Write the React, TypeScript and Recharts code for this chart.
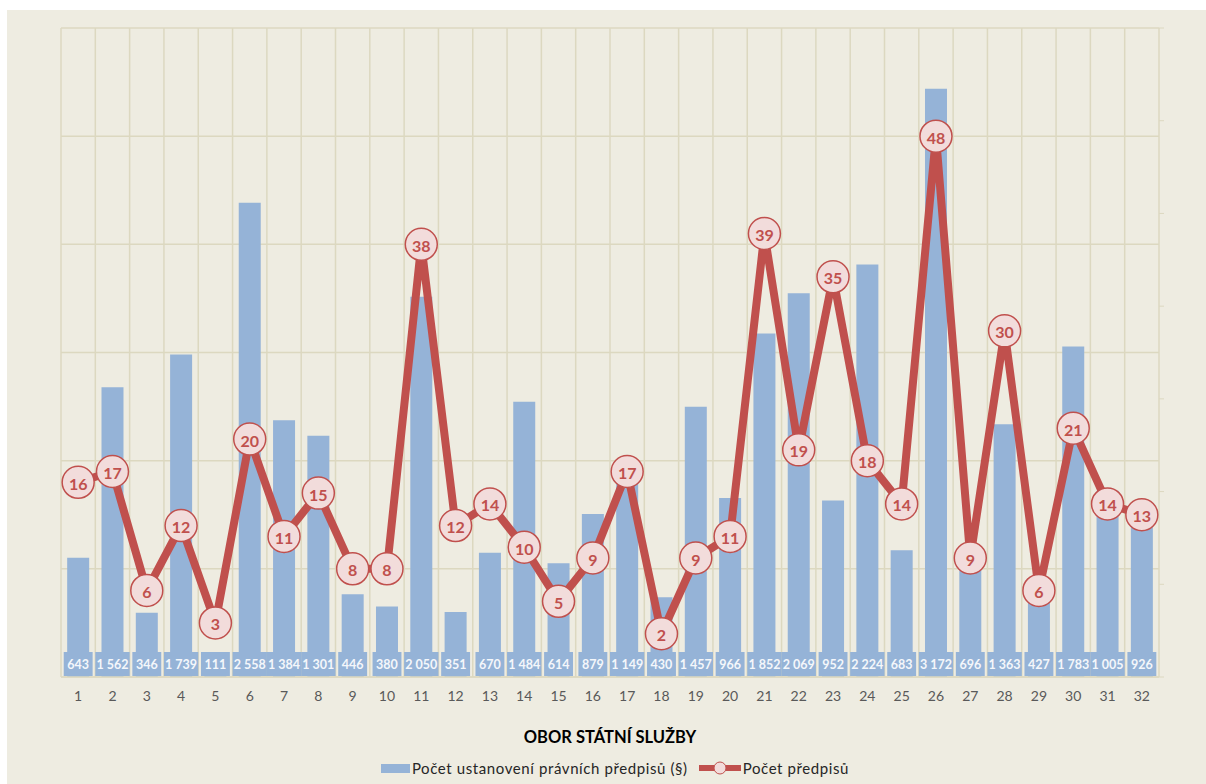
import React from 'react';
import { ComposedChart, Bar, Line, XAxis, YAxis, CartesianGrid, Legend, LabelList } from 'recharts';

const categories = ['1','2','3','4','5','6','7','8','9','10','11','12','13','14','15','16','17','18','19','20','21','22','23','24','25','26','27','28','29','30','31','32'];
const provisions = [643,1562,346,1739,111,2558,1384,1301,446,380,2050,351,670,1484,614,879,1149,430,1457,966,1852,2069,952,2224,683,3172,696,1363,427,1783,1005,926];
const regulations = [16,17,6,12,3,20,11,15,8,8,38,12,14,10,5,9,17,2,9,11,39,19,35,18,14,48,9,30,6,21,14,13];
const barTicks = [0,500,1000,1500,2000,2500,3000,3500];
const lineTicks = [-2,8,18,28,38,48,58];

const BAR_NAME = 'Počet ustanovení právních předpisů (§)';
const LINE_NAME = 'Počet předpisů';
const TITLE = 'OBOR STÁTNÍ SLUŽBY';

const data = categories.map((c, i) => ({ cat: c, provisions: provisions[i], regulations: regulations[i] }));

const BLUE = '#95b3d7';
const RED = '#c0504d';
const PINK = '#f2dcdb';
const BG = '#eeece1';
const GRID = '#dcd8c0';
const FONT = "Lato, 'Open Sans', 'Liberation Sans', sans-serif";
const GAP = 0.18;

const fmt = (v: number) => String(v).replace(/\B(?=(\d{3})+(?!\d))/g, ' ');

const BarValueLabel = (props: any) => {
  const { x, y, width, height, value } = props;
  const text = fmt(Number(value));
  let tw = 0;
  for (const ch of text) tw += ch === ' ' ? 3.3 : 7.3;
  const maxW = width / (1 - 2 * GAP);
  const w = Math.min(maxW, tw + 7);
  const cx = x + width / 2;
  const bottom = y + height;
  return (
    <g>
      <rect x={cx - w / 2} y={bottom - 25} width={w} height={24} fill={BLUE} />
      <text x={cx} y={bottom - 13} textAnchor="middle" dominantBaseline="central" fill="#f4f7fb" fontSize={12.5} fontWeight={700} fontFamily={FONT}>{text}</text>
    </g>
  );
};

const Marker = (props: any) => {
  const { cx, cy, payload, index } = props;
  return (
    <g key={`m-${index}`}>
      <circle cx={cx} cy={cy} r={16} fill={PINK} stroke={RED} strokeWidth={1.5} />
      <text x={cx} y={cy + 1} textAnchor="middle" dominantBaseline="central" fill={RED} fontSize={16} fontWeight={700} fontFamily={FONT}>{payload.regulations}</text>
    </g>
  );
};

const LegendContent = () => (
  <div style={{ display: 'flex', justifyContent: 'center', alignItems: 'center', fontFamily: FONT, fontSize: 15, letterSpacing: 0.6, color: '#262626', height: 24 }}>
    <span style={{ display: 'inline-block', width: 29, height: 9, background: BLUE, marginRight: 2 }} />
    <span>{BAR_NAME}</span>
    <svg width={44} height={16} style={{ marginLeft: 10, marginRight: 1 }}>
      <line x1={1} y1={8} x2={43} y2={8} stroke={RED} strokeWidth={6} />
      <circle cx={22} cy={8} r={6} fill={PINK} stroke={RED} strokeWidth={1} />
    </svg>
    <span>{LINE_NAME}</span>
  </div>
);

export default function App() {
  return (
    <div style={{ position: 'absolute', left: 7, top: 10, width: 1199, height: 774, background: BG }}>
      <ComposedChart
        width={1199}
        height={774}
        data={data}
        margin={{ top: 18, left: 54, right: 37, bottom: 4 }}
        barCategoryGap={`${GAP * 100}%`}
        style={{ fontFamily: FONT }}
      >
        <CartesianGrid
          yAxisId="line"
          stroke={GRID}
          strokeWidth={1.5}
          verticalCoordinatesGenerator={({ offset }: any) =>
            Array.from({ length: categories.length + 1 }, (_, i) => offset.left + (i * offset.width) / categories.length)
          }
        />
        <XAxis
          dataKey="cat"
          height={79}
          tickLine={false}
          axisLine={{ stroke: GRID, strokeWidth: 1.5 }}
          tickMargin={8}
          tick={{ fill: '#595959', fontSize: 14, fontFamily: FONT }}
          interval={0}
          label={{ value: TITLE, position: 'insideBottom', offset: 13, fill: '#000', fontSize: 16.5, fontWeight: 700, fontFamily: FONT }}
        />
        <YAxis yAxisId="line" hide domain={[-2, 58]} ticks={lineTicks} allowDataOverflow />
        <YAxis
          yAxisId="bar"
          orientation="right"
          width={10}
          domain={[0, 3500]}
          ticks={barTicks}
          tickSize={5}
          tickLine={{ stroke: GRID }}
          axisLine={false}
          tickFormatter={() => ''}
          allowDataOverflow
        />
        <Bar yAxisId="bar" dataKey="provisions" name={BAR_NAME} fill={BLUE} isAnimationActive={false}>
          <LabelList dataKey="provisions" content={BarValueLabel} />
        </Bar>
        <Line
          yAxisId="line"
          dataKey="regulations"
          name={LINE_NAME}
          type="linear"
          stroke={RED}
          strokeWidth={8}
          dot={Marker}
          activeDot={false}
          isAnimationActive={false}
        />
        <Legend verticalAlign="bottom" height={24} content={LegendContent} />
      </ComposedChart>
    </div>
  );
}
